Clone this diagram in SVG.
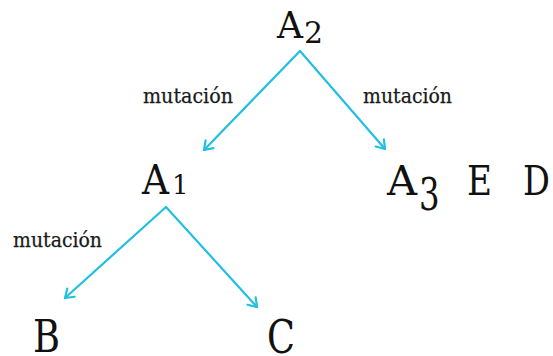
<svg xmlns="http://www.w3.org/2000/svg" width="553" height="356" viewBox="0 0 553 356">
<style>
.n{font-family:"DejaVu Serif","Liberation Serif",serif;fill:#111}
.l{font-family:"DejaVu Serif","Liberation Serif",serif;fill:#1a1a1a;font-size:19.5px;stroke:#1a1a1a;stroke-width:0.25}
.c{fill:none;stroke:#22bfdf;stroke-width:2.2;stroke-linecap:round;stroke-linejoin:round}
</style>
<defs>
<marker id="ah" markerUnits="userSpaceOnUse" viewBox="-10 -7 12 14" markerWidth="12" markerHeight="14" refX="0" refY="0" orient="auto">
<path d="M-8,-5.5 L0,0 L-8,5.5" fill="none" stroke="#22bfdf" stroke-width="2.2" stroke-linecap="round" stroke-linejoin="round"/>
</marker>
</defs>
<rect width="553" height="356" fill="#fff"/>
<g id="connectors">
<path class="c" d="M300,51 L204,150" marker-end="url(#ah)"/>
<path class="c" d="M300,51 L385,149" marker-end="url(#ah)"/>
<path class="c" d="M166,207 L65,298" marker-end="url(#ah)"/>
<path class="c" d="M166,207 L257,307" marker-end="url(#ah)"/>
</g>
<g id="labels">
<text class="l" x="143" y="103" textLength="90" lengthAdjust="spacingAndGlyphs">mutación</text>
<text class="l" x="363" y="103" textLength="89" lengthAdjust="spacingAndGlyphs">mutación</text>
<text class="l" x="13" y="247" textLength="89" lengthAdjust="spacingAndGlyphs">mutación</text>
</g>
<g id="A2">
<text class="n" x="277" y="38" font-size="37" textLength="26" lengthAdjust="spacingAndGlyphs">A</text>
<text class="n" x="304" y="43" font-size="29" textLength="19" lengthAdjust="spacingAndGlyphs">2</text>
</g>
<g id="A1">
<text class="n" x="142" y="194" font-size="41" textLength="27" lengthAdjust="spacingAndGlyphs">A</text>
<text class="n" x="172" y="194" font-size="26">1</text>
</g>
<g id="A3">
<text class="n" x="387" y="195" font-size="41" textLength="30" lengthAdjust="spacingAndGlyphs">A</text>
<text class="n" transform="translate(419,210) scale(0.72,1)" font-size="45">3</text>
</g>
<g id="E">
<text class="n" x="467" y="195" font-size="41" textLength="25" lengthAdjust="spacingAndGlyphs">E</text>
</g>
<g id="D">
<text class="n" transform="translate(523,195) scale(0.82,1)" font-size="41">D</text>
</g>
<g id="B">
<text class="n" x="33" y="352" font-size="45" textLength="27" lengthAdjust="spacingAndGlyphs">B</text>
</g>
<g id="C">
<text class="n" x="267" y="353" font-size="46" textLength="28" lengthAdjust="spacingAndGlyphs">C</text>
</g>
</svg>
